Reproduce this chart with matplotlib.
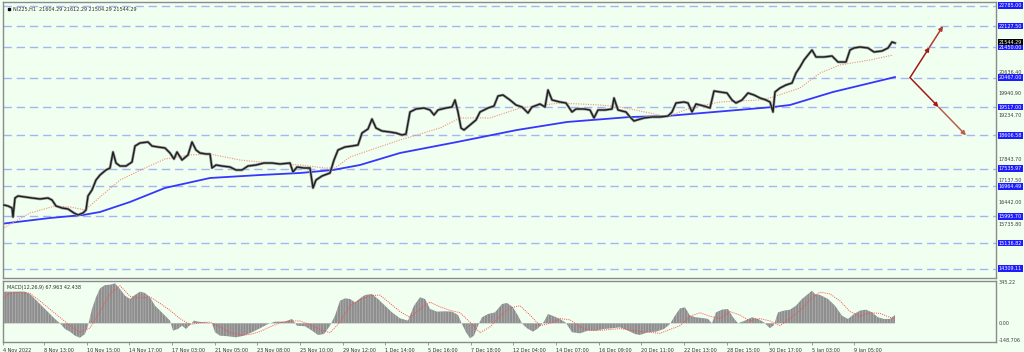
import matplotlib
matplotlib.use("Agg")
import matplotlib.pyplot as plt
from matplotlib.transforms import blended_transform_factory

# price path (bar position, price)
bar_x = [0, 4, 8, 12, 13, 15, 18, 25, 32, 40,
         48, 52, 56, 62, 68, 74, 78, 83, 86, 88,
         92, 96, 100, 106, 110, 113, 116, 120, 126, 132,
         135, 140, 148, 152, 158, 165, 170, 174, 177, 182,
         188, 192, 196, 200, 206, 210, 212, 216, 222, 230,
         236, 242, 248, 256, 264, 272, 280, 290, 293, 297,
         304, 310, 313, 316, 322, 330, 334, 338, 345, 352,
         358, 362, 368, 372, 376, 382, 390, 396, 402, 406,
         410, 416, 424, 430, 434, 438, 446, 452, 455, 458,
         461, 464, 470, 476, 480, 488, 494, 498, 503, 510,
         516, 522, 528, 532, 540, 545, 548, 552, 560, 566,
         572, 576, 584, 590, 594, 598, 605, 612, 614, 618,
         626, 630, 634, 637, 644, 652, 660, 668, 672, 676,
         684, 688, 692, 696, 704, 710, 714, 720, 727, 732,
         736, 742, 748, 754, 760, 766, 770, 773, 775, 780,
         786, 792, 796, 800, 804, 808, 812, 816, 824, 832,
         838, 846, 850, 854, 860, 868, 874, 882, 888, 892,
         895]
close = [16330, 16362, 16330, 16265, 15975, 16588, 16652, 16620, 16588, 16556,
         16588, 16523, 16330, 16265, 16233, 16104, 16040, 16104, 16201, 16652,
         16846, 17167, 17328, 17490, 17554, 18070, 17715, 17618, 17618, 17747,
         18263, 18360, 18392, 18263, 18231, 18199, 18038, 17844, 18070, 17812,
         17973, 18392, 18134, 18038, 18005, 18005, 17554, 17651, 17618, 17586,
         17490, 17490, 17618, 17651, 17715, 17715, 17683, 17715, 17425, 17586,
         17554, 17554, 16911, 17167, 17296, 17393, 17812, 18134, 18231, 18263,
         18295, 18682, 18811, 19133, 18843, 18747, 18714, 18682, 18618, 18650,
         19359, 19456, 19488, 19424, 19262, 19424, 19488, 19520, 19746, 19359,
         18843, 18779, 18940, 19101, 19359, 19488, 19552, 19875, 19907, 19746,
         19585, 19520, 19327, 19520, 19617, 19520, 20068, 19746, 19681, 19649,
         19359, 19456, 19456, 19424, 19166, 19424, 19424, 19456, 19810, 19424,
         19359, 19198, 19069, 19101, 19166, 19198, 19198, 19230, 19359, 19649,
         19681, 19649, 19359, 19617, 19552, 19488, 20036, 20004, 19971, 19746,
         19649, 19746, 19971, 19907, 19810, 19746, 19681, 19359, 20004, 20132,
         20229, 20293, 20616, 20809, 21035, 21196, 21357, 21132, 21132, 21164,
         20970, 20970, 21357, 21422, 21454, 21422, 21293, 21325, 21422, 21615,
         21582]

# moving averages
ma_fast_x = [0, 30, 55, 70, 85, 100, 120, 145, 165, 190, 210, 240, 270, 300, 325,
             335, 350, 400, 440, 460, 490, 520, 560, 600, 620, 650, 667, 690, 720,
             760, 773, 800, 820, 840, 870, 893]
ma_fast = [15556, 16104, 16330, 16297, 16201, 16620, 17167, 17554, 17844, 17973,
           18005, 17812, 17715, 17651, 17554, 17554, 17909, 18457, 18843, 19166,
           19166, 19488, 19649, 19585, 19520, 19327, 19198, 19488, 19681, 19746,
           19842, 20132, 20616, 20874, 21035, 21196]
ma_slow_x = [0, 50, 83, 100, 130, 165, 210, 260, 300, 333, 360, 400, 457, 477,
             517, 567, 630, 667, 773, 790, 833, 895]
ma_slow = [15749, 15943, 16040, 16136, 16459, 16911, 17232, 17328, 17393, 17490,
           17651, 18038, 18392, 18521, 18779, 19037, 19198, 19230, 19520, 19585,
           20004, 20485]

# horizontal levels (blue boxes) and plain price scale labels
levels = [22785.00, 22127.50, 21450.00, 20467.00, 19517.00, 18606.58,
          17535.97, 16964.49, 15995.70, 15136.82, 14309.11]
scale_labels = [20636.40, 19940.90, 19234.70, 17843.70, 17137.50, 16442.00, 15735.80]
last_price = 21544.29

# MACD histogram and signal
macd_x = [0, 5, 15, 25, 30, 40, 50, 55, 60, 65,
          70, 75, 80, 85, 88, 92, 96, 100, 105, 110,
          115, 120, 125, 130, 135, 140, 145, 150, 155, 160,
          165, 170, 173, 178, 182, 186, 190, 194, 198, 205,
          212, 215, 220, 228, 236, 244, 252, 260, 268, 275,
          285, 292, 297, 305, 312, 318, 324, 330, 335, 340,
          345, 350, 355, 360, 365, 372, 378, 385, 392, 400,
          408, 414, 420, 425, 430, 437, 445, 452, 458, 462,
          466, 470, 474, 478, 482, 488, 495, 502, 507, 513,
          518, 522, 527, 533, 538, 544, 548, 554, 560, 566,
          572, 580, 588, 596, 604, 612, 620, 628, 635, 640,
          648, 656, 664, 670, 675, 680, 685, 690, 696, 702,
          708, 712, 716, 722, 728, 733, 738, 745, 752, 758,
          764, 770, 774, 778, 784, 790, 796, 802, 808, 812,
          815, 820, 828, 835, 842, 848, 854, 860, 866, 872,
          878, 884, 890, 895]
macd_hist = [249, 269, 269, 269, 249, 164, 79, 37, 0, -48,
             -71, -105, -122, -91, -20, 122, 221, 297, 325, 328,
             340, 291, 235, 207, 241, 269, 258, 221, 150, 108,
             65, 23, -62, -48, -20, -48, -14, 23, 14, 8,
             0, -76, -105, -110, -119, -105, -76, -42, -6, 14,
             14, 37, -20, -25, -62, -99, -91, -20, 65, 192,
             212, 207, 178, 212, 241, 249, 207, 150, 93, 42,
             23, 150, 221, 207, 122, 99, 102, 99, 71, -6,
             -76, -127, -105, -20, 51, 79, 93, 164, 173, 136,
             65, 0, -42, -71, -42, 14, 79, 59, 37, 3,
             -76, -85, -62, -62, -48, -42, -34, -62, -91, -99,
             -76, -71, -48, -6, 65, 127, 136, 65, 51, 45,
             37, 0, 93, 116, 122, 51, 0, 23, 51, 37,
             8, -42, -14, 93, 108, 116, 150, 207, 249, 277,
             249, 241, 207, 150, 65, 37, 79, 108, 116, 93,
             51, 37, 37, 71]
signal_x = [0, 10, 20, 30, 40, 50, 60, 70, 80, 90, 100, 110, 120, 130, 140, 150,
            160, 170, 180, 190, 200, 210, 220, 230, 240, 250, 260, 270, 280, 290,
            300, 310, 320, 330, 340, 350, 360, 370, 380, 390, 400, 410, 420, 430,
            440, 450, 460, 470, 480, 490, 500, 510, 520, 530, 540, 550, 560, 570,
            580, 590, 600, 620, 640, 660, 680, 690, 700, 710, 720, 730, 740, 750,
            760, 770, 780, 790, 800, 810, 820, 830, 840, 850, 860, 870, 880, 890, 895]
signal = [200, 255, 265, 255, 190, 120, 50, -20, -75, -40, 100, 250, 320, 230, 215, 225,
          170, 110, 40, -10, 5, 10, -30, -80, -100, -95, -70, -30, 5, 20,
          20, -10, -55, -80, 10, 150, 200, 235, 240, 170, 100, 50, 120, 180,
          140, 110, 90, 10, -80, -30, 60, 130, 150, 70, -20, 0, 40, 30,
          -30, -60, -60, -45, -70, -85, -20, 60, 90, 60, 40, 100, 70, 20,
          40, 20, -20, 40, 110, 200, 265, 250, 190, 100, 60, 90, 85, 50, 42]

date_labels = ["4 Nov 2022", "8 Nov 13:00", "10 Nov 15:00", "14 Nov 17:00", "17 Nov 03:00",
               "21 Nov 05:00", "23 Nov 08:00", "25 Nov 10:00", "29 Nov 12:00", "1 Dec 14:00",
               "5 Dec 16:00", "7 Dec 18:00", "12 Dec 04:00", "14 Dec 07:00", "16 Dec 09:00",
               "20 Dec 11:00", "22 Dec 13:00", "28 Dec 15:00", "30 Dec 17:00", "5 Jan 03:00",
               "9 Jan 05:00"]
date_pos = [3, 44, 87, 129, 172, 215, 257, 300, 343, 385, 428, 471, 513, 556, 599,
            641, 684, 727, 769, 812, 854]

bg = "#f0fff0"
frame = "#8a8a8a"
fs = 3.5

fig = plt.figure(figsize=(10.24, 3.52), dpi=100, facecolor=bg)
W, H = 1024, 352
ax = fig.add_axes([3 / W, 1 - 278 / H, 993 / W, 276 / H], facecolor=bg)
axm = fig.add_axes([3 / W, 1 - 342 / H, 993 / W, 61 / H], facecolor=bg)

for a in (ax, axm):
    a.set_xlim(3, 996)
    for s in a.spines.values():
        s.set_color(frame)
        s.set_linewidth(1.0)
    a.set_yticks([])

ax.set_ylim(14009, 22904)
ax.set_xticks([])

for lv in levels:
    ax.axhline(lv, color="#a4b6f2", lw=1.0, dashes=(6, 3.5), zorder=1)

ax.plot(ma_slow_x, ma_slow, color="#3636ff", lw=1.3, zorder=2)
ax.plot(ma_fast_x, ma_fast, color="#f4907c", lw=0.8, ls=(0, (1, 1.2)), zorder=2)
ax.plot(bar_x, close, color="#9a9a9a", lw=2.0, zorder=3)
ax.plot(bar_x, close, color="#1e1e1e", lw=1.0, zorder=3)

# projection arrows from the pivot
pivot = (910, levels[3])
up_end = (943, levels[1])
dn_end = (966, levels[5])
up_mid = (pivot[0] + (up_end[0] - pivot[0]) * (levels[2] - levels[3]) / (levels[1] - levels[3]), levels[2])
dn_mid = (pivot[0] + (dn_end[0] - pivot[0]) * (levels[3] - levels[4]) / (levels[3] - levels[5]), levels[4])
for p0, p1, col in [(pivot, up_mid, "#a11a1a"), (up_mid, up_end, "#b13a30"),
                    (pivot, dn_mid, "#a11a1a"), (dn_mid, dn_end, "#b8604c")]:
    ax.annotate("", xy=p1, xytext=p0,
                arrowprops=dict(arrowstyle="-|>", color=col, lw=1.1,
                                mutation_scale=6, shrinkA=0, shrinkB=0), zorder=4)

trans = blended_transform_factory(ax.transAxes, ax.transData)
for v in scale_labels:
    ax.text(1.003, v, f"{v:.2f}", transform=trans, fontsize=fs, color="#404040",
            va="center", ha="left", clip_on=False)
for lv in levels:
    ax.text(1.003, lv, f"{lv:.2f}", transform=trans, fontsize=fs, color="white",
            va="center", ha="left", clip_on=False,
            bbox=dict(boxstyle="square,pad=0.15", fc="#1c1cff", ec="none"))
ax.text(1.003, last_price + 60, f"{last_price:.2f}", transform=trans, fontsize=fs, color="white",
        va="center", ha="left", clip_on=False,
        bbox=dict(boxstyle="square,pad=0.1", fc="black", ec="none"))

ax.plot([0.006], [0.975], marker="s", ms=2.0, color="black", transform=ax.transAxes, clip_on=False)
ax.text(0.010, 0.975, "NI225,H1  21604.29 21612.29 21504.29 21544.29", transform=ax.transAxes,
        fontsize=fs, color="#303030", va="center", ha="left")

# MACD panel
plt.rcParams["hatch.linewidth"] = 0.35
axm.set_ylim(-159, 360)
axm.fill_between(macd_x, 0, macd_hist, facecolor="#8e8e8e", edgecolor="#c4c4c4",
                 hatch="||||||", linewidth=0, zorder=2)
axm.plot(signal_x, signal, color="#ff4a4a", lw=0.7, ls=(0, (1, 1.2)), zorder=3)
axm.text(0.004, 0.9, "MACD(12,26,9) 67.963 42.438", transform=axm.transAxes,
         fontsize=fs, color="#303030", va="center", ha="left")
transm = blended_transform_factory(axm.transAxes, axm.transData)
for v, t in [(345.22, "345.22"), (0.0, "0.00"), (-148.706, "-148.706")]:
    axm.text(1.003, v, t, transform=transm, fontsize=fs, color="#404040",
             va="center", ha="left", clip_on=False)

axm.set_xticks(date_pos)
axm.set_xticklabels(date_labels, fontsize=fs, color="#303030", ha="left")
axm.tick_params(axis="x", length=2.5, width=0.6, color=frame, pad=1.5)

fig.savefig("out.png", dpi=100, facecolor=bg)
